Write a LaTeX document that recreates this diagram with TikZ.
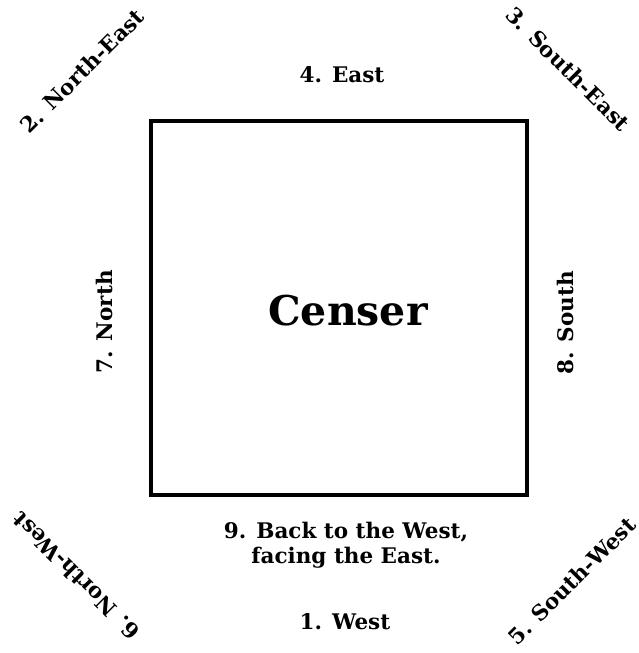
\documentclass[tikz,border=0pt]{standalone}
\usepackage{fontspec}
\setmainfont{DejaVu Serif}
\begin{document}
\begin{tikzpicture}[x=1pt,y=-1pt,
  lbl/.style={font=\bfseries\fontsize{21.5}{25}\selectfont, inner sep=0pt, align=center},
  big/.style={font=\bfseries\fontsize{41}{45}\selectfont, inner sep=0pt}]
\useasboundingbox (0,0) rectangle (639,653);
\node[draw, line width=3.5pt, minimum width=376pt, minimum height=374pt, inner sep=0pt] (box) at (339,308) {};
\node[big] (censer) at (348,311) {Censer};
\node[lbl] (e4) at (342,75) {4. East};
\node[lbl, rotate=90] (n7) at (104,322) {7. North};
\node[lbl, rotate=90] (s8) at (565,323) {8. South};
\node[lbl] (w9) at (346,545) {9. Back to the West,\\facing the East.};
\node[lbl] (w1) at (345,622) {1. West};
\node[lbl, rotate=45] (ne2) at (82,71) {2. North-East};
\node[lbl, rotate=-45] (se3) at (568,69) {3. South-East};
\node[lbl, rotate=135] (nw6) at (76,576) {6. North-West};
\node[lbl, rotate=45] (sw5) at (572,581) {5. South-West};
\end{tikzpicture}
\end{document}
